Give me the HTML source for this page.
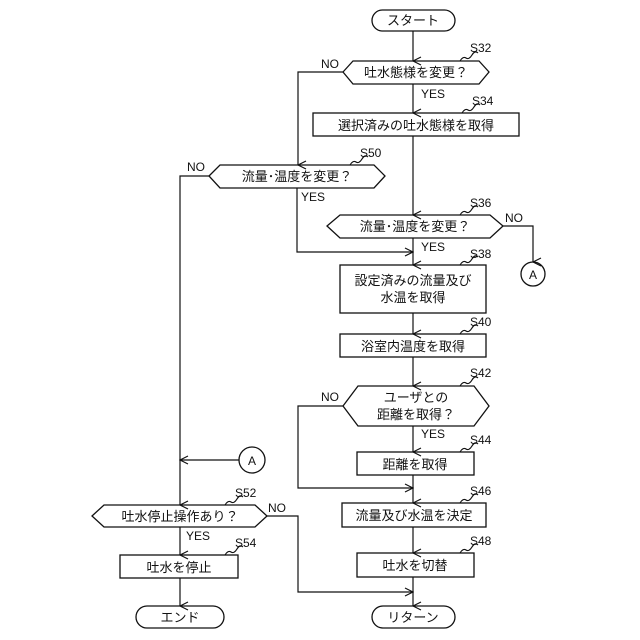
<!DOCTYPE html>
<html><head><meta charset="utf-8"><style>body{margin:0;background:#fff}svg{display:block}text{font-family:"Liberation Sans","Noto Sans CJK JP",sans-serif;fill:#111}</style></head><body>
<svg width="640" height="640" viewBox="0 0 640 640" xmlns="http://www.w3.org/2000/svg">
<defs><marker id="a" markerWidth="10" markerHeight="10" refX="5" refY="9" orient="auto" markerUnits="userSpaceOnUse" viewBox="0 0 10 10"><path d="M1,1 L5,9 L9,1" fill="none" stroke="#111" stroke-width="1.2"/></marker>
<marker id="h" markerWidth="10" markerHeight="10" refX="9" refY="5" orient="auto" markerUnits="userSpaceOnUse" viewBox="0 0 10 10"><path d="M1,1 L9,5 L1,9" fill="none" stroke="#111" stroke-width="1.2"/></marker></defs>
<g fill="#fff" stroke="#111" stroke-width="1.3">
<rect x="372" y="10" width="83" height="21" rx="10.5"/>
<polygon points="343,72 353,61 479,61 489,72 479,84 353,84"/>
<rect x="313" y="113" width="206" height="23"/>
<polygon points="209,176 220,165 374,165 385,176 374,188 220,188"/>
<polygon points="327,226 340,215 490,215 503,226 490,238 340,238"/>
<circle cx="533" cy="274" r="12"/>
<rect x="340" y="265" width="146" height="48"/>
<rect x="340" y="334" width="146" height="23"/>
<polygon points="343,406 358,386 474,386 489,406 474,426 358,426"/>
<rect x="357" y="452" width="117" height="23"/>
<rect x="342" y="503" width="144" height="24"/>
<rect x="357" y="553" width="117" height="24"/>
<rect x="372" y="606" width="83" height="22" rx="11"/>
<circle cx="252" cy="460" r="13"/>
<polygon points="92,516 104,505 255,505 267,516 255,527 104,527"/>
<rect x="120" y="555" width="118" height="23"/>
<rect x="136" y="606" width="88" height="22" rx="11"/>
</g>
<g fill="none" stroke="#111" stroke-width="1.2">
<line x1="413" y1="31" x2="413" y2="61" marker-end="url(#a)"/>
<line x1="413" y1="84" x2="413" y2="113" marker-end="url(#a)"/>
<line x1="413" y1="136" x2="413" y2="215" marker-end="url(#a)"/>
<polyline points="343,72 298,72 298,165" marker-end="url(#a)"/>
<polyline points="297,188 297,252 413,252" marker-end="url(#h)"/>
<line x1="413" y1="238" x2="413" y2="265" marker-end="url(#a)"/>
<polyline points="503,226 533,226 533,262" marker-end="url(#a)"/>
<polyline points="209,176 180,176 180,505" marker-end="url(#a)"/>
<line x1="413" y1="313" x2="413" y2="334" marker-end="url(#a)"/>
<line x1="413" y1="357" x2="413" y2="386" marker-end="url(#a)"/>
<line x1="413" y1="426" x2="413" y2="452" marker-end="url(#a)"/>
<polyline points="343,406 298,406 298,488 413,488" marker-end="url(#h)"/>
<line x1="413" y1="475" x2="413" y2="503" marker-end="url(#a)"/>
<line x1="413" y1="527" x2="413" y2="553" marker-end="url(#a)"/>
<line x1="413" y1="577" x2="413" y2="606" marker-end="url(#a)"/>
<polyline points="267,516 298,516 298,592 413,592" marker-end="url(#h)"/>
<line x1="239" y1="460" x2="180" y2="460" marker-end="url(#h)"/>
<line x1="180" y1="527" x2="180" y2="555" marker-end="url(#a)"/>
<line x1="180" y1="578" x2="180" y2="606" marker-end="url(#a)"/>
<path d="M460,61 q3,-5 6,-3 t6,-3 t6,-2"/>
<path d="M462,113 q3,-5 6,-3 t6,-3 t6,-2"/>
<path d="M350,165 q3,-5 6,-3 t6,-3 t6,-2"/>
<path d="M460,215 q3,-5 6,-3 t6,-3 t6,-2"/>
<path d="M460,265 q3,-5 6,-3 t6,-3 t6,-2"/>
<path d="M460,334 q3,-5 6,-3 t6,-3 t6,-2"/>
<path d="M460,386 q3,-5 6,-3 t6,-3 t6,-2"/>
<path d="M460,452 q3,-5 6,-3 t6,-3 t6,-2"/>
<path d="M460,503 q3,-5 6,-3 t6,-3 t6,-2"/>
<path d="M460,553 q3,-5 6,-3 t6,-3 t6,-2"/>
<path d="M225,505 q3,-5 6,-3 t6,-3 t6,-2"/>
<path d="M225,555 q3,-5 6,-3 t6,-3 t6,-2"/>
</g>
<g font-size="13" text-anchor="middle">
<text x="413" y="25">スタート</text>
<text x="416" y="77">吐水態様を変更？</text>
<text x="416" y="130">選択済みの吐水態様を取得</text>
<text x="297" y="181">流量･温度を変更？</text>
<text x="415" y="231">流量･温度を変更？</text>
<text x="413" y="285">設定済みの流量及び</text>
<text x="413" y="302">水温を取得</text>
<text x="413" y="351">浴室内温度を取得</text>
<text x="416" y="402">ユーザとの</text>
<text x="416" y="419">距離を取得？</text>
<text x="415" y="469">距離を取得</text>
<text x="414" y="520">流量及び水温を決定</text>
<text x="415" y="570">吐水を切替</text>
<text x="413" y="622">リターン</text>
<text x="180" y="521">吐水停止操作あり？</text>
<text x="179" y="572">吐水を停止</text>
<text x="180" y="622">エンド</text>
<text x="533" y="279" font-size="12">A</text>
<text x="252" y="465" font-size="12">A</text>
</g>
<g font-size="12">
<text x="470" y="52">S32</text><text x="472" y="105">S34</text><text x="360" y="157">S50</text>
<text x="470" y="207">S36</text><text x="470" y="258">S38</text><text x="470" y="326">S40</text>
<text x="470" y="377">S42</text><text x="470" y="444">S44</text><text x="470" y="495">S46</text>
<text x="470" y="545">S48</text><text x="235" y="497">S52</text><text x="235" y="547">S54</text>
<text x="321" y="68">NO</text><text x="187" y="171">NO</text><text x="505" y="222">NO</text>
<text x="321" y="401">NO</text><text x="268" y="512">NO</text>
<text x="421" y="98">YES</text><text x="301" y="201">YES</text><text x="421" y="251">YES</text>
<text x="421" y="438">YES</text><text x="186" y="540">YES</text>
</g>
</svg>
</body></html>
